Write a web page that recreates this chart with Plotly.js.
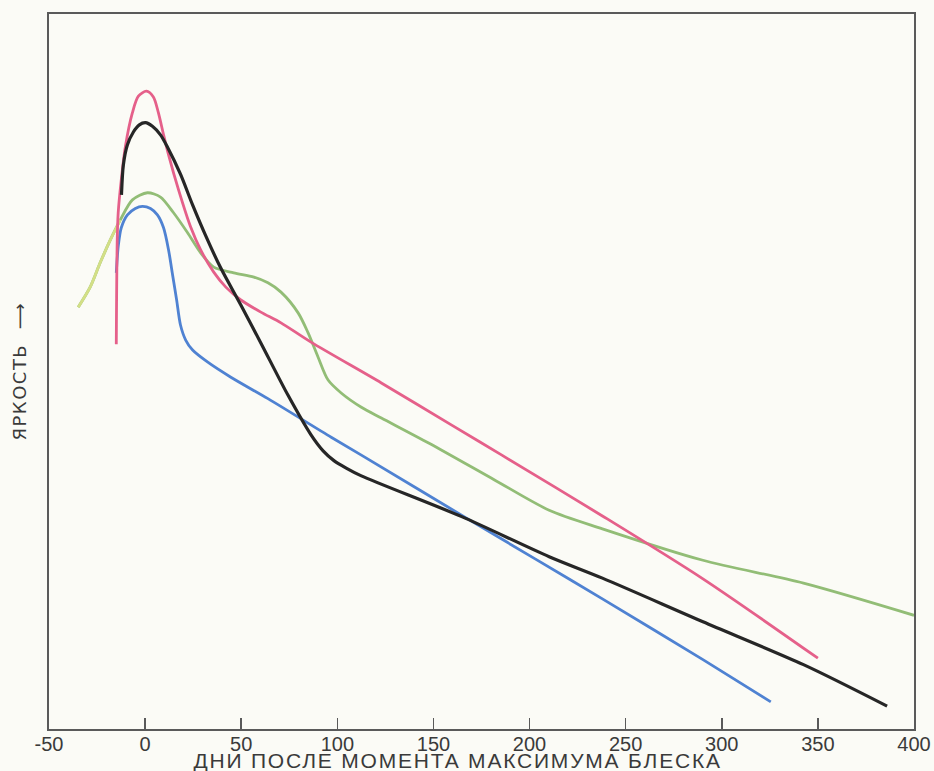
<!DOCTYPE html>
<html>
<head>
<meta charset="utf-8">
<script src="https://cdn.plot.ly/plotly-3.0.1.min.js"></script>
<style>
  html, body { margin: 0; padding: 0; background: #fbfbf6; }
  #chart { width: 934px; height: 771px; }
</style>
</head>
<body>
<div id="chart"></div>
<script>
// Light curves: brightness (arbitrary units) vs. days after maximum light
var redX   = [-15.0, -14.5, -14.0, -12.4, -10.3, -6.6, -3.5, 0.7, 4.3, 6.9, 9.6, 12.2, 17.4, 23.7, 28.9, 35.7, 42.0, 49.8, 60.2, 70.7, 86.3, 122.9, 159.5, 185.6, 237.9, 290.2, 350.0];
var redY   = [53.8, 68.4, 72.2, 76.8, 81.4, 86.2, 88.5, 89.2, 88.4, 86.2, 83.1, 80.3, 75.4, 70.2, 67.0, 63.9, 61.8, 60.0, 58.3, 56.8, 54.1, 48.4, 42.5, 38.3, 29.8, 21.0, 9.9];

var blackX = [-12.3, -11.3, -9.2, -6.1, -3.0, 0.2, 3.8, 8.0, 11.6, 18.4, 24.7, 31.5, 39.3, 49.8, 60.2, 74.3, 86.4, 92.6, 98.4, 104.6, 112.5, 164.7, 210.2, 237.9, 290.2, 342.5, 386.0];
var blackY = [74.7, 78.9, 81.7, 83.5, 84.5, 84.8, 84.3, 83.1, 81.4, 77.6, 73.3, 69.0, 64.5, 59.3, 54.0, 46.7, 41.1, 38.9, 37.5, 36.5, 35.4, 29.7, 24.1, 21.1, 15.0, 9.0, 3.2];

var blueX  = [-15.0, -13.9, -12.4, -9.2, -5.1, -1.4, 2.8, 6.4, 9.6, 12.2, 14.3, 16.4, 18.4, 21.1, 24.7, 32.6, 44.6, 63.9, 96.8, 112.5, 171.5, 202.9, 237.9, 290.2, 325.5];
var blueY  = [63.8, 67.7, 70.1, 71.9, 72.8, 73.1, 72.8, 71.9, 70.1, 67.0, 63.5, 60.0, 56.5, 54.4, 53.0, 51.3, 49.2, 46.2, 40.8, 38.3, 28.8, 23.8, 18.2, 9.7, 3.8];

var greenX = [-34.8, -28.6, -23.4, -18.1, -12.9, -6.6, 1.2, 8.0, 14.8, 22.1, 28.9, 35.7, 46.1, 56.6, 63.9, 70.7, 79.6, 84.8, 90.0, 95.2, 102.0, 112.5, 122.9, 147.5, 182.0, 210.2, 237.9, 290.2, 342.5, 400.0];
var greenY = [59.0, 61.8, 65.2, 68.4, 71.2, 74.0, 75.0, 74.4, 72.2, 69.4, 66.6, 64.6, 63.8, 63.2, 62.4, 61.1, 58.2, 55.4, 52.0, 48.8, 47.0, 45.0, 43.5, 40.0, 34.8, 30.6, 28.0, 23.6, 20.4, 15.9];

var tickVals  = [-50, 0, 50, 100, 150, 200, 250, 300, 350, 400];
var tickText  = ['\u201150', '0', '50', '100', '150', '200', '250', '300', '350', '400'];

var xTitle = 'ДНИ ПОСЛЕ МОМЕНТА МАКСИМУМА БЛЕСКА';
var yTitle = 'ЯРКОСТЬ  \u27F6';

function curve(x, y, color, width) {
  return {
    x: x, y: y, type: 'scatter', mode: 'lines',
    line: { color: color, width: width, shape: 'spline', smoothing: 0.8 },
    hoverinfo: 'skip', showlegend: false
  };
}

var traces = [
  curve(greenX, greenY, '#92bd76', 2.8),
  curve(greenX.slice(0, 5), greenY.slice(0, 5), '#d3df86', 2.8),
  curve(blueX, blueY, '#4f82d2', 2.8),
  curve(redX, redY, '#e5608a', 2.8),
  curve(blackX, blackY, '#262626', 3.2)
];

var sans = 'Liberation Sans, Arial, sans-serif';

var layout = {
  width: 934, height: 771,
  margin: { l: 49, r: 20, t: 14, b: 42 },
  paper_bgcolor: '#fbfbf6',
  plot_bgcolor: '#fbfbf6',
  showlegend: false,
  xaxis: {
    range: [-50, 400],
    tickvals: tickVals, ticktext: tickText,
    ticks: 'inside', ticklen: 11, tickwidth: 1.6, tickcolor: '#5a5a5a',
    showgrid: false, zeroline: false,
    showline: true, mirror: true, linecolor: '#5a5a5a', linewidth: 2,
    tickfont: { family: sans, size: 20, color: '#3a3a3a' },
    ticklabelstandoff: -4
  },
  yaxis: {
    range: [0, 100],
    showticklabels: false, ticks: '', showgrid: false, zeroline: false,
    showline: true, mirror: true, linecolor: '#5a5a5a', linewidth: 2
  },
  annotations: [
    {
      text: xTitle, xref: 'paper', yref: 'paper', x: 0.472, y: 0,
      xanchor: 'center', yanchor: 'top', yshift: -19, showarrow: false,
      borderpad: 0,
      font: { family: sans, size: 21, color: '#3a3a3a' }
    },
    {
      text: yTitle, xref: 'paper', yref: 'paper', x: 0, y: 0.5,
      xanchor: 'right', yanchor: 'middle', xshift: -17, showarrow: false,
      textangle: -90,
      font: { family: 'DejaVu Sans, Liberation Sans, sans-serif', size: 18, color: '#3a3a3a' }
    }
  ]
};

Plotly.newPlot('chart', traces, layout, { displayModeBar: false, staticPlot: true }).then(function (gd) {
  // spread the captions to the width they take on the figure
  var ann = gd.querySelectorAll('.annotation-text');
  if (ann[0]) ann[0].style.letterSpacing = '1.8px';
  if (ann[1]) ann[1].style.letterSpacing = '1.5px';
});
</script>
</body>
</html>
